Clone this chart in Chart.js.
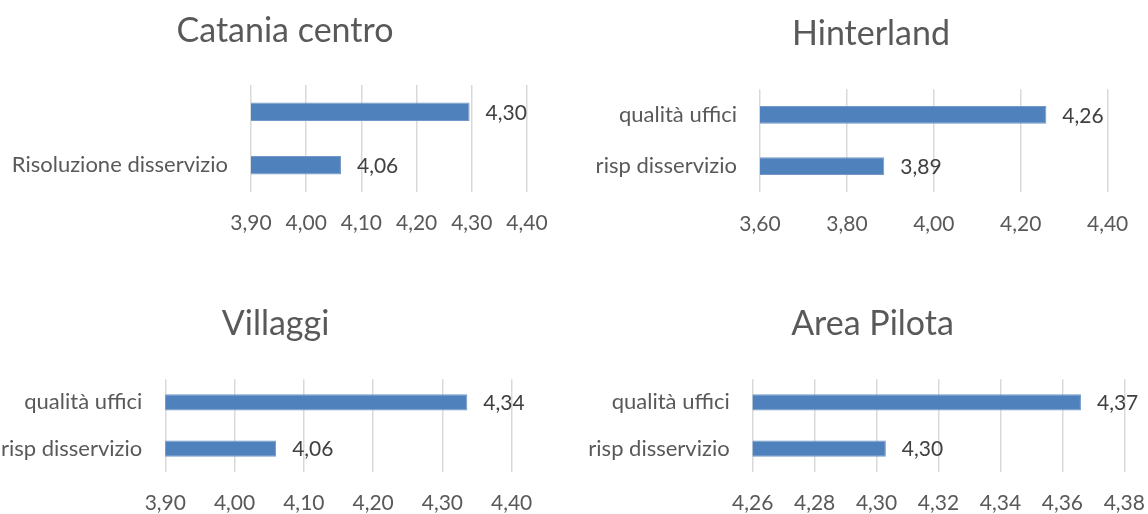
<!DOCTYPE html>
<html lang="it">
<head>
<meta charset="utf-8">
<title>Soddisfazione per area</title>
<script src="https://cdn.jsdelivr.net/npm/chart.js@4.4.1/dist/chart.umd.min.js"></script>
<style>
    body { margin: 0; background: #fff; overflow: hidden; }
    #wrap { position: relative; width: 1148px; height: 514px; overflow: hidden; }
    canvas { position: absolute; }
</style>
</head>
<body>
<div id="wrap">
    <canvas id="c1" width="570" height="257" style="left:0;top:0"></canvas>
    <canvas id="c2" width="554" height="257" style="left:594px;top:0"></canvas>
    <canvas id="c3" width="551" height="257" style="left:0;top:257px"></canvas>
    <canvas id="c4" width="585" height="257" style="left:580px;top:257px"></canvas>
</div>
<script>

/* DATI */

const etichetteCatania = ['', 'Risoluzione disservizio'];
const etichetteAree = ['qualità uffici', 'risp disservizio'];

const valoriCatania = [4.296, 4.063];
const valoriHinterland = [4.259, 3.886];
const valoriVillaggi = [4.336, 4.06];
const valoriPilota = [4.366, 4.303];

const tickCatania = [3.90, 4.00, 4.10, 4.20, 4.30, 4.40];
const tickHinterland = [3.60, 3.80, 4.00, 4.20, 4.40];
const tickVillaggi = [3.90, 4.00, 4.10, 4.20, 4.30, 4.40];
const tickPilota = [4.26, 4.28, 4.30, 4.32, 4.34, 4.36, 4.38];

/* STILE */

const FONT = 'Lato, "Open Sans", sans-serif';
const GRIGIO = '#595959';

function formato(v){
    return v.toFixed(2).replace('.', ',');
}

/* ETICHETTE DATI */

const etichetteValori = {
    id: 'etichetteValori',
    afterDatasetsDraw(chart){
        const ctx = chart.ctx;
        const valori = chart.data.datasets[0].data;
        ctx.save();
        ctx.font = '21px ' + FONT;
        ctx.fillStyle = '#404040';
        ctx.textAlign = 'left';
        ctx.textBaseline = 'middle';
        chart.getDatasetMeta(0).data.forEach((bar, i) => {
            ctx.fillText(formato(valori[i]), bar.x + 16, bar.y + 1);
        });
        ctx.restore();
    }
};

/* TITOLO centrato sul canvas intero (il titolo di Chart.js si centra senza i margini) */

const titoloCentrato = {
    id: 'titoloCentrato',
    afterDraw(chart, args, opts){
        const ctx = chart.ctx;
        ctx.save();
        ctx.font = '34px ' + FONT;
        ctx.fillStyle = GRIGIO;
        ctx.textAlign = 'center';
        ctx.textBaseline = 'middle';
        ctx.fillText(opts.testo, chart.width / 2, opts.y);
        ctx.restore();
    }
};

/* GRAFICO */

function creaGrafico(id, titolo, etichette, valori, tick, box){

    new Chart(document.getElementById(id), {
        type: 'bar',
        data: {
            labels: etichette,
            datasets: [{
                data: valori,
                backgroundColor: '#4F81BD',
                borderColor: '#7298C9',
                borderWidth: 1,
                barPercentage: 0.5,
                categoryPercentage: 0.7
            }]
        },
        options: {
            indexAxis: 'y',
            responsive: false,
            animation: false,
            devicePixelRatio: 1,
            layout: { padding: { left: 0, right: box.destra, top: box.sopra, bottom: 0 } },
            plugins: {
                legend: { display: false },
                tooltip: { enabled: false },
                title: { display: false },
                titoloCentrato: { testo: titolo, y: box.titoloY }
            },
            scales: {
                x: {
                    min: tick[0],
                    max: tick[tick.length - 1],
                    afterBuildTicks: s => { s.ticks = tick.map(v => ({ value: v })); },
                    afterFit: s => { s.height = box.asseX; },
                    grid: { color: '#D9D9D9', lineWidth: 1.5, drawTicks: false },
                    border: { display: false },
                    ticks: {
                        padding: box.tickPad,
                        color: GRIGIO,
                        font: { family: FONT, size: 21 },
                        maxRotation: 0,
                        autoSkip: false,
                        callback: v => formato(v)
                    }
                },
                y: {
                    afterFit: s => { s.width = box.asseY; },
                    grid: { display: false, drawTicks: false },
                    border: { display: false },
                    ticks: {
                        padding: 23,
                        color: GRIGIO,
                        font: { family: FONT, size: 22 }
                    }
                }
            }
        },
        plugins: [etichetteValori, titoloCentrato]
    });

}

creaGrafico('c1', 'Catania centro', etichetteCatania, valoriCatania, tickCatania,
    { destra: 43, asseY: 251, sopra: 85, titoloY: 31.3, asseX: 65, tickPad: 18.4 });

creaGrafico('c2', 'Hinterland', etichetteAree, valoriHinterland, tickHinterland,
    { destra: 34.7, asseY: 166, sopra: 89.3, titoloY: 34.5, asseX: 65.3, tickPad: 19.7 });

creaGrafico('c3', 'Villaggi', etichetteAree, valoriVillaggi, tickVillaggi,
    { destra: 30.3, asseY: 165.3, sopra: 122.3, titoloY: 67.5, asseX: 42.3, tickPad: 18.7 });

creaGrafico('c4', 'Area Pilota', etichetteAree, valoriPilota, tickPilota,
    { destra: 40.7, asseY: 172.7, sopra: 122.3, titoloY: 67.5, asseX: 42.3, tickPad: 18.7 });

</script>
</body>
</html>
